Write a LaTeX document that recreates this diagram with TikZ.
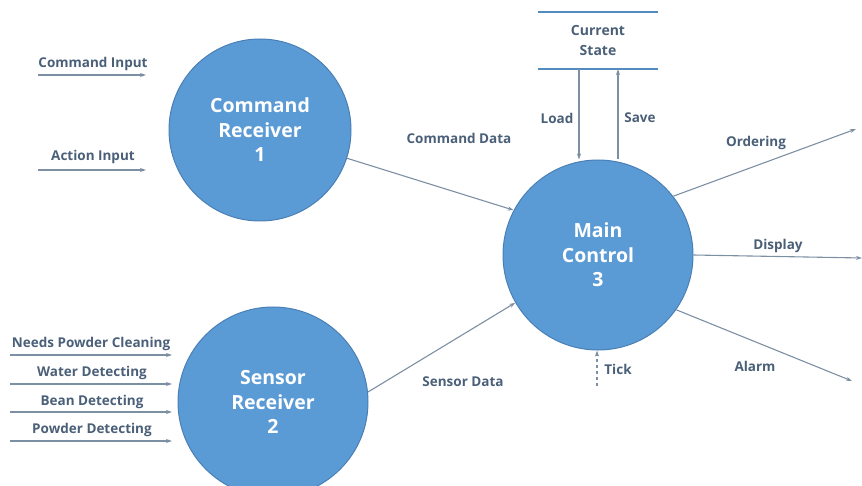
\documentclass[tikz,border=0pt]{standalone}
\usepackage{fontspec}
\setmainfont{Open Sans}[BoldFont={Open Sans Bold}]
\usetikzlibrary{arrows.meta}
\definecolor{cfill}{HTML}{5B9BD5}
\definecolor{cline}{HTML}{4A7FB5}
\definecolor{ltext}{HTML}{4A5F78}
\definecolor{flow}{HTML}{7D8FA3}
\tikzset{
  proc/.style={circle, fill=cfill, draw=cline, line width=1pt, minimum size=#1, inner sep=0pt,
    text=white, font=\fontsize{19.5}{24.5}\selectfont\bfseries, align=center},
  lbl/.style={text=ltext, font=\fontsize{13.5}{15}\selectfont\bfseries, inner sep=1pt},
  flowarr/.style={draw=flow, line width=1.1pt, -{Stealth[length=6pt,width=4pt]}},
  store/.style={draw=cfill!90!black, line width=2.8pt}
}
\begin{document}
\begin{tikzpicture}[x=1pt,y=-1pt]
\useasboundingbox (0,0) rectangle (862,486);
% processes
\node[proc=182pt] (cr) at (260,130) {Command\\Receiver\\1};
\node[proc=190pt] (sr) at (273,402) {Sensor\\Receiver\\2};
\node[proc=190pt] (mc) at (598,255) {Main\\Control\\3};
% data store
\coordinate (st1) at (538,12);
\coordinate (st2) at (658,12);
\coordinate (sb1) at (538,69);
\coordinate (sb2) at (658,69);
\draw[store] (st1) -- (st2);
\draw[store] (sb1) -- (sb2);
\node[lbl, align=center, font=\fontsize{14}{20}\selectfont\bfseries] (cs) at (598,41) {Current\\State};
% load / save
\coordinate (ld) at (579,69);
\coordinate (sv) at (618,69);
\draw[flowarr] (ld) -- (ld |- mc.north);
\draw[flowarr] (mc.north -| sv) -- (sv);
\node[lbl] (lload) at (557,118) {Load};
\node[lbl] (lsave) at (640,118) {Save};
% inputs to command receiver
\coordinate (ci1) at (38,75);  \coordinate (ci2) at (146,75);
\coordinate (ai1) at (38,170); \coordinate (ai2) at (146,170);
\draw[flowarr] (ci1) -- (ci2);
\draw[flowarr] (ai1) -- (ai2);
\node[lbl] (lci) at (93,64) {Command Input};
\node[lbl] (lai) at (93,157) {Action Input};
% inputs to sensor receiver
\coordinate (n1) at (10,355); \coordinate (n2) at (172,355);
\coordinate (w1) at (10,384); \coordinate (w2) at (172,384);
\coordinate (b1) at (10,412); \coordinate (b2) at (172,412);
\coordinate (p1) at (10,441); \coordinate (p2) at (172,441);
\draw[flowarr] (n1) -- (n2);
\draw[flowarr] (w1) -- (w2);
\draw[flowarr] (b1) -- (b2);
\draw[flowarr] (p1) -- (p2);
\node[lbl] (ln) at (91,344) {Needs Powder Cleaning};
\node[lbl] (lw) at (92,373) {Water Detecting};
\node[lbl] (lb) at (92,402) {Bean Detecting};
\node[lbl] (lp) at (92,430) {Powder Detecting};
% data flows
\draw[flowarr] (cr.-18) -- (mc.152);
\node[lbl] (lcd) at (459,138) {Command Data};
\draw[flowarr] (sr.6) -- (mc.210);
\node[lbl] (lsd) at (463,382) {Sensor Data};
% outputs
\coordinate (oe) at (856,129);
\coordinate (de) at (862,258);
\coordinate (ae) at (852,381);
\draw[flowarr] (mc.38) -- (oe);
\draw[flowarr] (mc.0) -- (de);
\draw[flowarr] (mc.-35) -- (ae);
\node[lbl] (lo) at (756,143) {Ordering};
\node[lbl] (ldp) at (778,246) {Display};
\node[lbl] (la) at (755,366) {Alarm};
% tick
\coordinate (tk) at (597,386);
\draw[flowarr, dashed] (tk) -- (mc.south -| tk);
\node[lbl] (lt) at (618,369) {Tick};
\end{tikzpicture}
\end{document}
